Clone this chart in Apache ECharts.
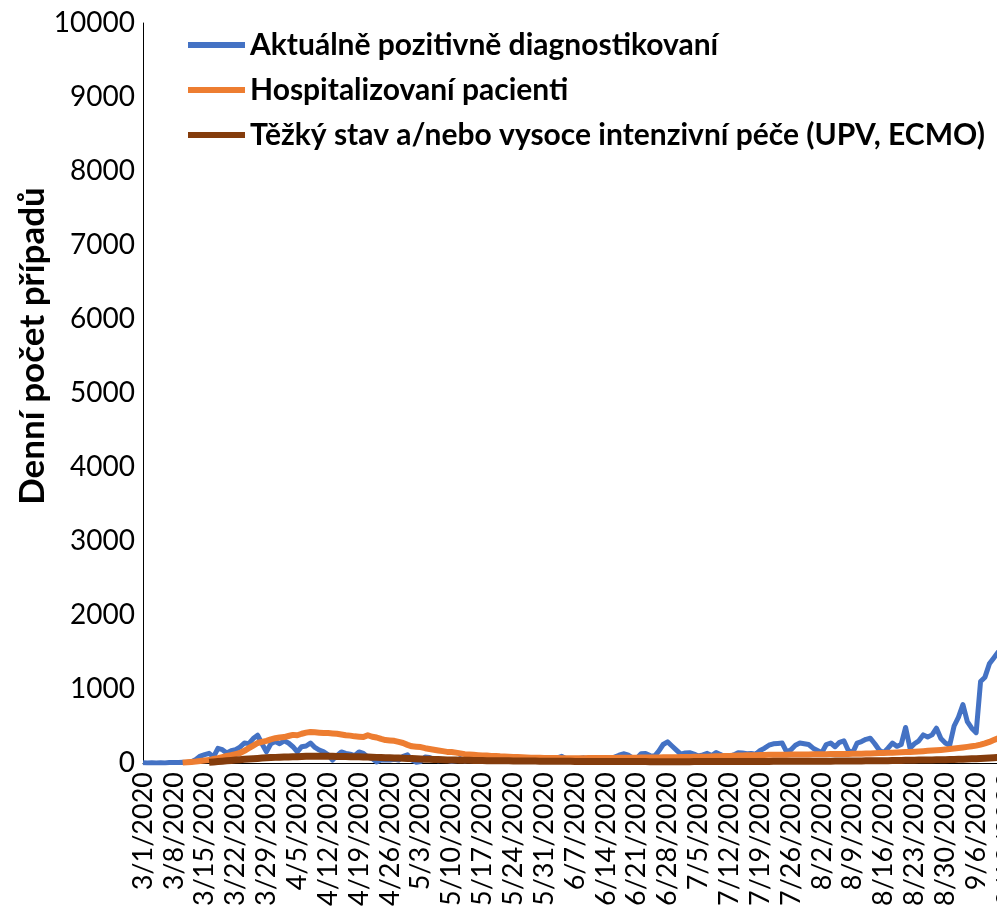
<!DOCTYPE html>
<html>
<head>
<meta charset="utf-8">
<script src="https://cdn.jsdelivr.net/npm/echarts@6/dist/echarts.min.js"></script>
<style>
  html, body { margin: 0; padding: 0; background: #fff; }
  #main { width: 997px; height: 910px; }
</style>
</head>
<body>
<div id="main"></div>
<script>
// daily values from 3/1/2020, one per day
var seriesNames = ['Aktuálně pozitivně diagnostikovaní', 'Hospitalizovaní pacienti', 'Těžký stav a/nebo vysoce intenzivní péče (UPV, ECMO)'];

var positive = [
  3, 0, 2, 0, 3, 0, 7, 7, 8, 9,
  6, 17, 47, 94, 114, 131, 82, 198, 180, 135,
  166, 180, 215, 270, 262, 330, 375, 260, 150, 260,
  290, 260, 300, 270, 220, 150, 220, 230, 270, 210,
  175, 150, 110, 40, 100, 150, 130, 120, 100, 150,
  130, 80, 60, 15, 40, 45, 40, 50, 40, 90,
  110, 40, 10, 20, 80, 75, 50, 30, 40, 35,
  20, 30, 60, 25, 45, 55, 40, 20, 30, 70,
  55, 25, 45, 60, 20, 40, 50, 60, 45, 30,
  40, 50, 35, 60, 70, 90, 55, 30, 40, 60,
  70, 55, 40, 50, 60, 30, 50, 80, 105, 125,
  110, 70, 60, 125, 130, 100, 90, 160, 250, 285,
  230, 175, 120, 135, 140, 120, 95, 110, 130, 100,
  140, 115, 80, 90, 110, 140, 135, 125, 130, 120,
  170, 200, 240, 260, 265, 270, 150, 180, 240, 270,
  260, 250, 200, 170, 140, 250, 270, 220, 280, 300,
  170, 140, 270, 290, 320, 335, 260, 175, 140, 200,
  270, 225, 250, 480, 200, 260, 300, 380, 350, 380,
  470, 330, 270, 240, 500, 620, 790, 560, 470, 410,
  1100, 1160, 1340, 1420, 1500, 1540, 1600
];

var hospitalized = [
  null, null, null, null, null, null, null, null, null, 5,
  10, 15, 20, 28, 35, 40, 55, 65, 80, 95,
  105, 120, 135, 165, 200, 235, 270, 285, 300, 320,
  335, 345, 350, 365, 380, 375, 395, 410, 420, 415,
  410, 405, 405, 400, 395, 385, 375, 370, 360, 355,
  350, 375, 355, 345, 325, 310, 305, 300, 285, 270,
  245, 225, 220, 215, 200, 190, 180, 170, 160, 150,
  148, 140, 130, 120, 115, 110, 105, 100, 100, 95,
  95, 90, 88, 85, 82, 80, 78, 75, 72, 70,
  70, 68, 68, 66, 66, 65, 65, 64, 64, 65,
  65, 66, 66, 67, 67, 68, 68, 69, 70, 70,
  71, 72, 72, 73, 74, 74, 75, 76, 77, 78,
  78, 79, 80, 81, 82, 83, 84, 85, 86, 88,
  90, 92, 94, 96, 98, 100, 102, 104, 105, 106,
  107, 108, 110, 111, 112, 113, 113, 114, 115, 115,
  116, 116, 117, 118, 118, 119, 120, 120, 121, 122,
  123, 124, 125, 126, 128, 130, 132, 134, 136, 138,
  140, 142, 145, 148, 150, 153, 156, 160, 164, 168,
  172, 177, 182, 188, 195, 202, 210, 218, 226, 235,
  248, 265, 285, 310, 335, 350, 370
];

var severe = [
  null, null, null, null, null, null, null, null, null, null,
  null, null, null, null, null, 10, 15, 20, 25, 30,
  35, 40, 45, 50, 55, 58, 62, 66, 70, 73,
  76, 78, 80, 82, 84, 86, 88, 90, 91, 92,
  92, 92, 91, 90, 89, 88, 87, 86, 85, 84,
  82, 80, 78, 76, 74, 72, 70, 68, 66, 64,
  62, 60, 58, 55, 52, 50, 48, 46, 44, 42,
  40, 39, 38, 37, 36, 35, 34, 33, 32, 31,
  30, 30, 29, 29, 28, 28, 27, 27, 26, 26,
  25, 25, 24, 24, 23, 23, 22, 22, 21, 21,
  20, 20, 20, 20, 20, 20, 20, 20, 20, 20,
  20, 20, 19, 19, 19, 18, 18, 18, 18, 18,
  18, 18, 18, 18, 18, 19, 19, 19, 19, 19,
  19, 19, 19, 20, 20, 20, 20, 20, 20, 21,
  21, 21, 21, 22, 22, 22, 22, 23, 23, 23,
  23, 24, 24, 24, 25, 25, 25, 26, 26, 26,
  27, 27, 28, 28, 29, 29, 30, 30, 31, 32,
  33, 34, 35, 36, 37, 38, 39, 40, 41, 42,
  43, 44, 45, 46, 48, 50, 52, 54, 56, 58,
  60, 63, 66, 70, 74, 78, 82
];

var seriesColors = ['#4472C4', '#ED7D31', '#843C0C'];
var seriesWidths = [5, 6, 7];

// category labels m/d/yyyy
var dates = [];
var start = new Date(2020, 2, 1);
for (var i = 0; i < positive.length; i++) {
  var d = new Date(start.getFullYear(), start.getMonth(), start.getDate() + i);
  dates.push((d.getMonth() + 1) + '/' + d.getDate() + '/' + d.getFullYear());
}

var myChart = echarts.init(document.getElementById('main'));
var FONT = 'Lato';
var values = [positive, hospitalized, severe];

var option = {
  animation: false,
  textStyle: { fontFamily: FONT },
  // plot runs past the right edge of the picture (cropped like the original)
  grid: {
    left: 143, top: 23, bottom: 147, right: -10,
    containLabel: false, outerBoundsMode: 'none'
  },
  legend: {
    orient: 'vertical',
    left: 183,
    top: 23,
    icon: 'rect',
    itemWidth: 57,
    itemHeight: 6,
    itemGap: 11,
    data: seriesNames,
    textStyle: {
      fontFamily: FONT, fontWeight: 'bold', fontSize: 30, color: '#000',
      lineHeight: 34
    }
  },
  xAxis: {
    type: 'category',
    data: dates,
    boundaryGap: false,
    axisLine: { lineStyle: { color: '#000', width: 1 } },
    axisTick: { show: false },
    axisLabel: {
      interval: 6, rotate: 90, margin: 9,
      fontFamily: FONT, fontSize: 27, color: '#000'
    }
  },
  yAxis: {
    type: 'value',
    min: 0, max: 10000, interval: 1000,
    axisLine: { show: true, lineStyle: { color: '#000', width: 1 } },
    axisTick: { show: false },
    splitLine: { show: false },
    axisLabel: {
      margin: 8, fontFamily: FONT, fontSize: 28, color: '#000',
      formatter: function (v) { return String(v); }
    }
  },
  graphic: [{
    type: 'text',
    x: 33, y: 346,
    rotation: Math.PI / 2,
    style: {
      text: 'Denní počet případů',
      fontFamily: FONT, fontWeight: 'bold', fontSize: 35, fill: '#000',
      align: 'center', verticalAlign: 'middle'
    }
  }],
  series: seriesNames.map(function (name, k) {
    return {
      name: name,
      type: 'line',
      data: values[k],
      showSymbol: false,
      smooth: false,
      color: seriesColors[k],
      lineStyle: { color: seriesColors[k], width: seriesWidths[k], join: 'round' }
    };
  })
};

myChart.setOption(option);
</script>
</body>
</html>
